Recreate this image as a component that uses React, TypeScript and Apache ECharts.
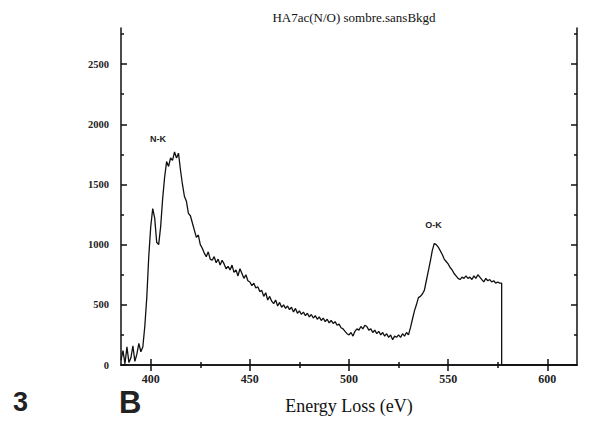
import React, { useEffect, useRef } from "react";
import * as echarts from "echarts";

const energy: number[] = [];
for (let e = 385; e <= 576; e++) energy.push(e);

const counts: number[] = [
  40, 120, 10, 150, 20, 60, 160, 30, 90, 180,
  110, 150, 320, 560, 900, 1150, 1300, 1220, 1020, 1000,
  1150, 1380, 1560, 1690, 1650, 1720, 1700, 1770, 1720, 1760,
  1620, 1500, 1400, 1360, 1260, 1240, 1180, 1120, 1060, 1080,
  1000, 970, 930, 900, 940, 880, 870, 900, 850, 880,
  830, 870, 840, 800, 820, 790, 830, 770, 790, 740,
  800, 760, 720, 750, 700, 690, 660, 680, 640, 650,
  610, 620, 570, 600, 540, 570, 530, 510, 540, 490,
  520, 480, 500, 470, 490, 460, 480, 440, 470, 430,
  450, 420, 440, 410, 430, 400, 420, 390, 410, 380,
  400, 370, 390, 360, 380, 350, 370, 345, 360, 330,
  340, 310, 300, 280, 260, 250, 270, 240, 280, 300,
  290, 320, 300, 330, 320, 290, 300, 270, 290, 260,
  280, 250, 270, 240, 260, 230, 250, 210, 240, 230,
  250, 230, 260, 240, 270, 250, 310, 380, 450, 500,
  560, 570, 590, 620, 700, 780, 860, 950, 1010, 1000,
  980, 950, 920, 880, 860, 840, 810, 790, 760, 740,
  720, 710, 730, 720, 740, 720, 730, 710, 740, 720,
  750, 730, 710, 690, 720, 700, 710, 690, 700, 680,
  690, 680,
];

const tailEnergy: number[] = [577, 577, 615];
const tailCounts: number[] = [680, 0, 0];

const xMajorTicks: number[] = [400, 450, 500, 550, 600];
const xMinorTicks: number[] = [425, 475, 525, 575];
const yMajorTicks: number[] = [0, 500, 1000, 1500, 2000, 2500];
const yMinorTicks: number[] = [250, 750, 1250, 1750, 2250, 2750];

const peakLabels = [
  { name: "N-K", coord: [403.7, 1880] },
  { name: "O-K", coord: [542.6, 1165] },
];

const SERIF = "'Liberation Serif', 'DejaVu Serif', serif";
const SANS = "'Liberation Sans', Arial, sans-serif";

export default function App() {
  const ref = useRef<HTMLDivElement>(null);
  useEffect(() => {
    if (!ref.current) return;
    const chart = echarts.init(ref.current, null, { renderer: "svg" });
    const data: number[][] = energy.map((e, i) => [e, counts[i]]);
    tailEnergy.forEach((e, i) => data.push([e, tailCounts[i]]));

    const xBase = { type: "value" as const, min: 385, max: 615, splitLine: { show: false } };
    const yBase = { type: "value" as const, min: 0, max: 2800, splitLine: { show: false } };
    const lineStyle = { color: "#111", width: 1.5 };
    const plain = (v: number) => String(v);

    chart.setOption({
      animation: false,
      backgroundColor: "#fff",
      title: {
        text: "HA7ac(N/O) sombre.sansBkgd",
        left: 349,
        top: 6,
        textAlign: "center",
        textStyle: { fontFamily: SERIF, fontSize: 13, fontWeight: "normal", color: "#111" },
      },
      grid: { left: 121, top: 28, right: 12, bottom: 56, containLabel: false },
      xAxis: [
        {
          ...xBase,
          position: "bottom",
          axisLine: { show: true, lineStyle },
          axisTick: { show: true, inside: true, length: 6, customValues: xMajorTicks, lineStyle },
          axisLabel: { customValues: xMajorTicks, formatter: plain, fontFamily: SERIF, fontSize: 12, fontWeight: "bold", color: "#222", margin: 8 },
          name: "Energy Loss (eV)",
          nameLocation: "middle",
          nameGap: 32,
          nameTextStyle: { fontFamily: SERIF, fontSize: 18, color: "#111" },
        },
        {
          ...xBase,
          position: "bottom",
          axisLine: { show: false },
          axisTick: { show: true, inside: true, length: 3, customValues: xMinorTicks, lineStyle },
          axisLabel: { show: false },
        },
        {
          ...xBase,
          position: "top",
          axisLine: { show: true, lineStyle },
          axisTick: { show: true, inside: true, length: 6, customValues: xMajorTicks, lineStyle },
          axisLabel: { show: false },
        },
        {
          ...xBase,
          position: "top",
          axisLine: { show: false },
          axisTick: { show: true, inside: true, length: 3, customValues: xMinorTicks, lineStyle },
          axisLabel: { show: false },
        },
      ],
      yAxis: [
        {
          ...yBase,
          position: "left",
          axisLine: { show: true, lineStyle },
          axisTick: { show: true, inside: true, length: 6, customValues: yMajorTicks, lineStyle },
          axisLabel: { customValues: yMajorTicks, formatter: plain, fontFamily: SERIF, fontSize: 10.5, fontWeight: "bold", color: "#222", margin: 12 },
        },
        {
          ...yBase,
          position: "left",
          axisLine: { show: false },
          axisTick: { show: true, inside: true, length: 3, customValues: yMinorTicks, lineStyle },
          axisLabel: { show: false },
        },
        {
          ...yBase,
          position: "right",
          axisLine: { show: true, lineStyle },
          axisTick: { show: true, inside: true, length: 6, customValues: yMajorTicks, lineStyle },
          axisLabel: { show: false },
        },
        {
          ...yBase,
          position: "right",
          axisLine: { show: false },
          axisTick: { show: true, inside: true, length: 3, customValues: yMinorTicks, lineStyle },
          axisLabel: { show: false },
        },
      ],
      series: [
        {
          type: "line",
          xAxisIndex: 0,
          yAxisIndex: 0,
          data,
          showSymbol: false,
          symbol: "none",
          lineStyle: { color: "#111", width: 1.3 },
          markPoint: {
            symbol: "circle",
            symbolSize: 0,
            label: {
              show: true,
              position: "inside",
              formatter: "{b}",
              fontFamily: SANS,
              fontSize: 9,
              fontWeight: "bold",
              color: "#222",
            },
            data: peakLabels.map((p) => ({ name: p.name, coord: p.coord })),
          },
        },
      ],
      graphic: [
        {
          type: "text",
          left: 13,
          top: 388,
          style: { text: "3", fontFamily: SANS, fontSize: 27, fontWeight: "bold", fill: "#222" },
        },
        {
          type: "text",
          left: 119,
          top: 387,
          style: { text: "B", fontFamily: SANS, fontSize: 31, fontWeight: "bold", fill: "#222" },
        },
      ],
    });
    return () => chart.dispose();
  }, []);
  return <div ref={ref} style={{ position: "fixed", left: 0, top: 0, width: 589, height: 421 }} />;
}
